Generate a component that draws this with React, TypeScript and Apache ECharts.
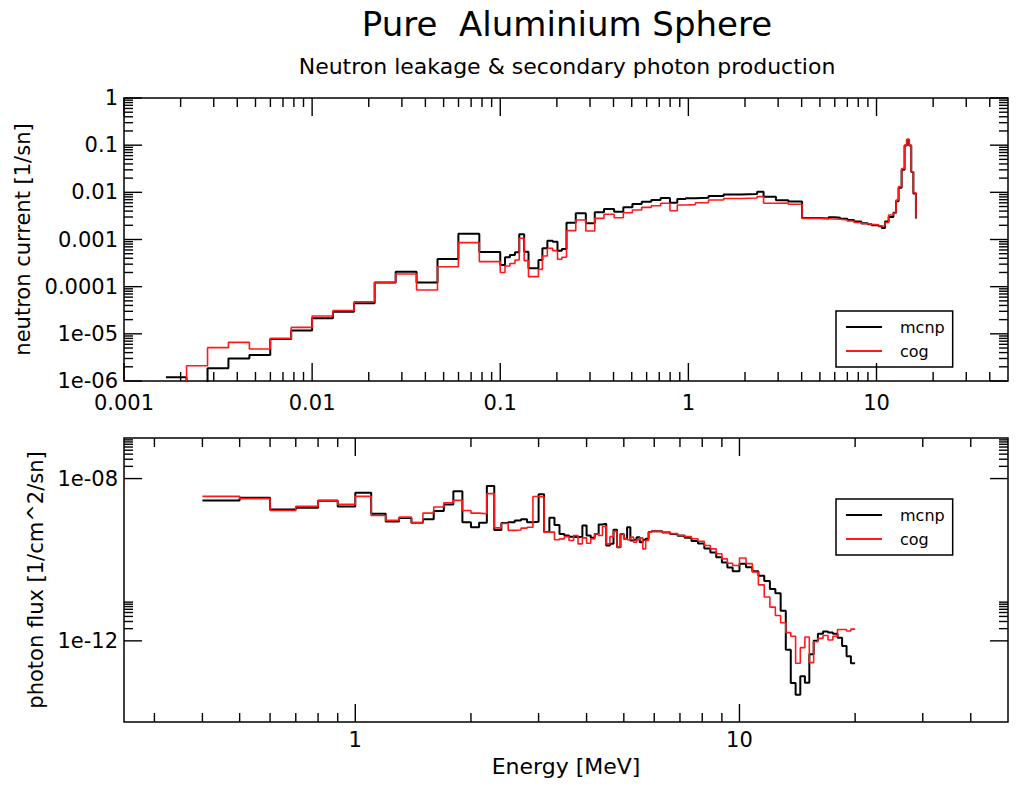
import React, { useEffect, useRef } from "react";
import * as echarts from "echarts";

// ---- Neutron leakage current (bin lower edges in MeV, last entry closes the final bin)
const E_NEUTRON = [
  0.00167, 0.00215, 0.00278, 0.00359, 0.00464, 0.00599, 0.00774, 0.01, 0.0129, 0.0167,
  0.0215, 0.0278, 0.0359, 0.0464, 0.0599, 0.0774, 0.1, 0.106, 0.1125, 0.1197,
  0.1262, 0.134, 0.1413, 0.1596, 0.1675, 0.178, 0.19, 0.2015, 0.2125, 0.225,
  0.252, 0.285, 0.318, 0.356, 0.403, 0.451, 0.504, 0.565, 0.635, 0.712,
  0.798, 0.873, 0.967, 1.09, 1.28, 1.54, 1.9, 2.32, 2.51, 2.92,
  3.4, 4.02, 4.5, 5.0, 5.56, 6.0, 6.41, 7.0, 7.6, 8.3,
  9.0, 9.44, 10.25, 10.67, 11.1, 11.6, 12.3, 12.7, 13.1, 13.6,
  14.1, 14.5, 14.9, 15.3, 15.7, 16.2,
];
const MCNP_NEUTRON = [
  1.2e-6, 8e-7, 1.86e-6, 3.0e-6, 3.56e-6, 7.8e-6, 1.17e-5, 2.13e-5, 2.95e-5, 4.44e-5,
  1.22e-4, 2.08e-4, 1.22e-4, 3.86e-4, 1.33e-3, 5.4e-4, 2.88e-4, 4.2e-4, 4.7e-4, 5.35e-4,
  1.29e-3, 5.5e-4, 2.45e-4, 3.68e-4, 6.5e-4, 9.4e-4, 9.0e-4, 5.8e-4, 6.3e-4, 2.27e-3,
  3.59e-3, 2.2e-3, 3.77e-3, 4.43e-3, 3.89e-3, 4.8e-3, 5.66e-3, 6.3e-3, 6.9e-3, 7.6e-3,
  6.0e-3, 7.2e-3, 7.5e-3, 7.7e-3, 8.4e-3, 9.0e-3, 9.2e-3, 1.03e-2, 8.1e-3, 6.8e-3,
  6.4e-3, 2.85e-3, 2.85e-3, 2.8e-3, 2.95e-3, 2.9e-3, 2.75e-3, 2.6e-3, 2.4e-3, 2.2e-3,
  2.1e-3, 2.0e-3, 1.9e-3, 1.75e-3, 2.4e-3, 3.0e-3, 3.7e-3, 6.5e-3, 1.25e-2, 3.0e-2,
  0.098, 0.13, 0.098, 2.7e-2, 9.5e-3, 2.8e-3,
];
const COG_NEUTRON = [
  5e-7, 2.11e-6, 5.09e-6, 6.6e-6, 4.77e-6, 8.0e-6, 1.37e-5, 2.39e-5, 3.1e-5, 4.8e-5,
  1.22e-4, 1.86e-4, 8.5e-5, 2.65e-4, 8.57e-4, 3.39e-4, 2.0e-4, 2.74e-4, 3.1e-4, 3.68e-4,
  1.06e-3, 3.56e-4, 1.63e-4, 2.33e-4, 4.47e-4, 6.5e-4, 5.8e-4, 3.8e-4, 4.2e-4, 1.54e-3,
  2.59e-3, 1.51e-3, 2.81e-3, 3.42e-3, 2.9e-3, 3.7e-3, 4.22e-3, 4.8e-3, 5.2e-3, 5.85e-3,
  4.08e-3, 5.4e-3, 5.5e-3, 6.0e-3, 6.9e-3, 7.4e-3, 7.6e-3, 8.1e-3, 5.85e-3, 5.9e-3,
  5.6e-3, 2.8e-3, 2.8e-3, 2.75e-3, 2.72e-3, 2.68e-3, 2.6e-3, 2.47e-3, 2.3e-3, 2.15e-3,
  2.1e-3, 2.05e-3, 1.93e-3, 1.95e-3, 2.3e-3, 3.3e-3, 3.6e-3, 6.9e-3, 1.32e-2, 3.2e-2,
  0.1, 0.133, 0.1, 2.74e-2, 9.8e-3, 2.8e-3,
];

// ---- Secondary photon flux (bin lower edges in MeV, last entry closes the final bin)
const E_PHOTON = [
  0.4, 0.5, 0.6, 0.7, 0.8, 0.9, 1.0, 1.1, 1.2, 1.3,
  1.4, 1.5, 1.6, 1.7, 1.8, 1.9, 2.0, 2.1, 2.2, 2.3,
  2.4, 2.5, 2.6, 2.7, 2.8, 2.9, 3.0, 3.1, 3.2, 3.3,
  3.4, 3.5, 3.6, 3.7, 3.8, 3.9, 4.0, 4.1, 4.2, 4.3,
  4.4, 4.5, 4.6, 4.7, 4.8, 4.9, 5.0, 5.1, 5.2, 5.3,
  5.4, 5.5, 5.6, 5.7, 5.8, 5.9, 6.0, 6.3, 6.6, 6.9,
  7.2, 7.5, 7.8, 8.1, 8.4, 8.7, 9.0, 9.3, 9.6, 10.0,
  10.4, 10.8, 11.2, 11.6, 12.0, 12.4, 12.8, 13.2, 13.6, 14.0,
  14.4, 14.8, 15.2, 15.6, 16.0, 16.5, 17.0, 17.5, 18.0, 18.5,
  19.0, 19.5, 20.0,
];
const MCNP_PHOTON = [
  2.9e-9, 3.39e-9, 1.74e-9, 1.91e-9, 2.85e-9, 2.06e-9, 4.5e-9, 1.36e-9, 8.8e-10, 1.06e-9,
  8.1e-10, 1.0e-9, 1.58e-9, 2.31e-9, 4.9e-9, 8.4e-10, 6.3e-10, 8.1e-10, 6.6e-9, 5.4e-10,
  8.0e-10, 8.4e-10, 9.3e-10, 1.0e-9, 8.4e-10, 8.6e-10, 4.1e-9, 4.8e-10, 1.08e-9, 7.2e-10,
  4.3e-10, 3.95e-10, 3.7e-10, 3.6e-10, 3.7e-10, 7.0e-10, 3.95e-10, 3.46e-10, 4.3e-10, 7.4e-10,
  7.7e-10, 2.23e-10, 2.46e-10, 5.5e-10, 2.03e-10, 4.3e-10, 3.27e-10, 6.3e-10, 2.97e-10, 3.1e-10,
  3.6e-10, 2.7e-10, 3.1e-10, 3.27e-10, 4.8e-10, 5.0e-10, 5.0e-10, 4.7e-10, 4.3e-10, 3.9e-10,
  3.5e-10, 2.9e-10, 2.5e-10, 1.9e-10, 1.5e-10, 1.15e-10, 8.5e-11, 6.4e-11, 5.2e-11, 8.0e-11,
  6.5e-11, 5.2e-11, 4.0e-11, 3.0e-11, 1.9e-11, 1.5e-11, 5.5e-12, 6.0e-13, 9.2e-14, 4.7e-14,
  1.35e-13, 9.3e-14, 4.7e-13, 1.0e-12, 1.5e-12, 1.7e-12, 1.6e-12, 1.5e-12, 1.2e-12, 7.5e-13,
  4.2e-13, 2.8e-13, 2.8e-13,
];
const COG_PHOTON = [
  3.65e-9, 3.2e-9, 1.64e-9, 2.06e-9, 2.9e-9, 2.31e-9, 3.65e-9, 1.23e-9, 9.3e-10, 1.12e-9,
  8.1e-10, 1.41e-9, 2.0e-9, 2.54e-9, 2.9e-9, 1.64e-9, 1.41e-9, 1.36e-9, 4.25e-9, 6.1e-10,
  7.8e-10, 5.3e-10, 5.4e-10, 6.0e-10, 6.3e-10, 3.6e-9, 3.5e-9, 4.8e-10, 4.8e-10, 3.1e-10,
  3.27e-10, 3.7e-10, 2.97e-10, 3.95e-10, 2.46e-10, 3.46e-10, 2.55e-10, 3.27e-10, 4.3e-10, 3.95e-10,
  6.6e-10, 2.46e-10, 3.7e-10, 5.0e-10, 2.03e-10, 4.3e-10, 3.27e-10, 3.1e-10, 3.6e-10, 2.7e-10,
  3.1e-10, 3.46e-10, 1.85e-10, 2.97e-10, 4.8e-10, 5.0e-10, 5.0e-10, 4.8e-10, 4.4e-10, 4.0e-10,
  3.7e-10, 3.3e-10, 2.85e-10, 2.25e-10, 1.85e-10, 1.4e-10, 1.05e-10, 8.2e-11, 7.2e-11, 1.1e-10,
  8.0e-11, 5.0e-11, 2.4e-11, 1.2e-11, 6.8e-12, 4.2e-12, 2.8e-12, 1.6e-12, 1.3e-12, 2.8e-13,
  6.8e-13, 1.25e-12, 2.9e-13, 9.5e-13, 1.15e-12, 1.35e-12, 1.05e-12, 1.3e-12, 1.9e-12, 1.9e-12,
  1.75e-12, 1.95e-12, 1.95e-12,
];

// ---- Axis ticks and labels
const MINOR_STEPS = [2, 3, 4, 5, 6, 7, 8, 9];

const NEUTRON_X_MAJOR = [0.001, 0.01, 0.1, 1, 10];
const NEUTRON_X_LABELS = ["0.001", "0.01", "0.1", "1", "10"];
const NEUTRON_X_MINOR_DECADES = [0.001, 0.01, 0.1, 1];
const NEUTRON_X_MINOR_EXTRA = [20, 30, 40];
const NEUTRON_Y_MAJOR = [1e-6, 1e-5, 1e-4, 1e-3, 1e-2, 1e-1, 1];
const NEUTRON_Y_LABELS = ["1e-06", "1e-05", "0.0001", "0.001", "0.01", "0.1", "1"];
const NEUTRON_Y_MINOR_DECADES = [1e-6, 1e-5, 1e-4, 1e-3, 1e-2, 1e-1];

const PHOTON_X_MAJOR = [1, 10];
const PHOTON_X_LABELS = ["1", "10"];
const PHOTON_X_MINOR = [0.3, 0.4, 0.5, 0.6, 0.7, 0.8, 0.9, 2, 3, 4, 5, 6, 7, 8, 9, 20, 30, 40];
const PHOTON_Y_MAJOR = [1e-12, 1e-8];
const PHOTON_Y_LABELS = ["1e-12", "1e-08"];
const PHOTON_Y_MINOR_DECADES = [1e-12, 1e-8];

const FONT = "DejaVu Sans";

const expand = (decades: number[]) =>
  decades.flatMap((d) => MINOR_STEPS.map((m) => d * m));

const pairs = (xs: number[], ys: number[]) => xs.map((x, i) => [x, ys[i]]);

const labelFor = (values: number[], texts: string[]) => (v: number) => {
  const lv = Math.log10(v);
  const i = values.findIndex((m) => Math.abs(Math.log10(m) - lv) < 1e-6);
  return i >= 0 ? texts[i] : "";
};

// tick rows: [x, y, kind]  kind 0 = x major, 1 = x minor, 2 = y major, 3 = y minor
const tickRows = (
  xMajor: number[],
  xMinor: number[],
  yMajor: number[],
  yMinor: number[],
  xRef: number,
  yRef: number
) => [
  ...xMajor.map((v) => [v, yRef, 0]),
  ...xMinor.map((v) => [v, yRef, 1]),
  ...yMajor.map((v) => [xRef, v, 2]),
  ...yMinor.map((v) => [xRef, v, 3]),
];

// inward ticks on all four sides of a plot frame
const renderTick = (params: any, api: any) => {
  const cs = params.coordSys;
  const kind = api.value(2);
  const p = api.coord([api.value(0), api.value(1)]);
  const len = kind === 0 || kind === 2 ? 18 : 9;
  const style = { stroke: "#000", lineWidth: 1.4 };
  if (kind < 2) {
    const x = p[0];
    const yb = cs.y + cs.height;
    return {
      type: "group",
      children: [
        { type: "line", shape: { x1: x, y1: yb, x2: x, y2: yb - len }, style },
        { type: "line", shape: { x1: x, y1: cs.y, x2: x, y2: cs.y + len }, style },
      ],
    };
  }
  const y = p[1];
  const xr = cs.x + cs.width;
  return {
    type: "group",
    children: [
      { type: "line", shape: { x1: cs.x, y1: y, x2: cs.x + len, y2: y }, style },
      { type: "line", shape: { x1: xr, y1: y, x2: xr - len, y2: y }, style },
    ],
  };
};

const hiddenAxisParts = {
  axisLine: { show: false },
  axisTick: { show: false },
  splitLine: { show: false },
  minorTick: { show: false },
};

const labelStyle = { fontFamily: FONT, fontSize: 21, color: "#000" };

const legendBox = (top: number) => ({
  left: 836,
  top,
  orient: "vertical",
  padding: [7, 8, 7, 10],
  itemGap: 6,
  itemWidth: 36,
  itemHeight: 2,
  icon: "rect",
  borderColor: "#000",
  borderWidth: 1.5,
  backgroundColor: "#fff",
  selectedMode: false,
  data: ["mcnp", "cog"],
  textStyle: {
    fontFamily: FONT,
    fontSize: 16,
    lineHeight: 18,
    color: "#000",
    padding: [0, 0, 0, 13],
  },
});

const stepSeries = (name: string, color: string, width: number, data: number[][], gi: number) => ({
  name,
  type: "line",
  step: "end",
  xAxisIndex: gi,
  yAxisIndex: gi,
  data,
  color,
  symbol: "none",
  showSymbol: false,
  clip: true,
  lineStyle: { color, width },
  z: 3,
});

const buildOption = () => ({
  animation: false,
  backgroundColor: "#fff",
  textStyle: { fontFamily: FONT },
  title: [
    {
      text: "Pure  Aluminium Sphere",
      left: 567,
      top: 7,
      textAlign: "center",
      padding: 0,
      textStyle: { fontFamily: FONT, fontSize: 34, fontWeight: "normal", color: "#000" },
    },
    {
      text: "Neutron leakage & secondary photon production",
      left: 567,
      top: 55,
      textAlign: "center",
      padding: 0,
      textStyle: { fontFamily: FONT, fontSize: 22, fontWeight: "normal", color: "#000" },
    },
  ],
  legend: [legendBox(311), legendBox(499)],
  grid: [
    { left: 124, top: 98, width: 884, height: 283, show: true, borderColor: "#000", borderWidth: 1.5, backgroundColor: "transparent" },
    { left: 124, top: 438, width: 884, height: 284, show: true, borderColor: "#000", borderWidth: 1.5, backgroundColor: "transparent" },
  ],
  xAxis: [
    {
      type: "log",
      gridIndex: 0,
      min: 0.001,
      max: 50,
      ...hiddenAxisParts,
      axisLabel: {
        ...labelStyle,
        margin: 11,
        showMinLabel: true,
        showMaxLabel: true,
        formatter: labelFor(NEUTRON_X_MAJOR, NEUTRON_X_LABELS),
      },
    },
    {
      type: "log",
      gridIndex: 1,
      min: 0.25,
      max: 50,
      ...hiddenAxisParts,
      name: "Energy [MeV]",
      nameLocation: "middle",
      nameGap: 33,
      nameTextStyle: { fontFamily: FONT, fontSize: 22, color: "#000" },
      axisLabel: {
        ...labelStyle,
        margin: 7,
        showMinLabel: true,
        showMaxLabel: true,
        formatter: labelFor(PHOTON_X_MAJOR, PHOTON_X_LABELS),
      },
    },
  ],
  yAxis: [
    {
      type: "log",
      gridIndex: 0,
      min: 1e-6,
      max: 1,
      ...hiddenAxisParts,
      name: "neutron current [1/sn]",
      nameLocation: "middle",
      nameGap: 76,
      nameTextStyle: { fontFamily: FONT, fontSize: 21, color: "#000" },
      axisLabel: {
        ...labelStyle,
        margin: 6,
        showMinLabel: true,
        showMaxLabel: true,
        formatter: labelFor(NEUTRON_Y_MAJOR, NEUTRON_Y_LABELS),
      },
    },
    {
      type: "log",
      gridIndex: 1,
      min: 1e-14,
      max: 1e-7,
      ...hiddenAxisParts,
      name: "photon flux [1/cm^2/sn]",
      nameLocation: "middle",
      nameGap: 76,
      nameTextStyle: { fontFamily: FONT, fontSize: 21, color: "#000" },
      axisLabel: {
        ...labelStyle,
        margin: 6,
        showMinLabel: true,
        showMaxLabel: true,
        formatter: labelFor(PHOTON_Y_MAJOR, PHOTON_Y_LABELS),
      },
    },
  ],
  series: [
    stepSeries("mcnp", "#000000", 2, pairs(E_NEUTRON, MCNP_NEUTRON), 0),
    stepSeries("cog", "#ff1a1a", 1.6, pairs(E_NEUTRON, COG_NEUTRON), 0),
    stepSeries("mcnp", "#000000", 2, pairs(E_PHOTON, MCNP_PHOTON), 1),
    stepSeries("cog", "#ff1a1a", 1.6, pairs(E_PHOTON, COG_PHOTON), 1),
    {
      type: "custom",
      xAxisIndex: 0,
      yAxisIndex: 0,
      silent: true,
      z: 10,
      renderItem: renderTick,
      data: tickRows(
        NEUTRON_X_MAJOR,
        [...expand(NEUTRON_X_MINOR_DECADES), ...NEUTRON_X_MINOR_EXTRA],
        NEUTRON_Y_MAJOR,
        expand(NEUTRON_Y_MINOR_DECADES),
        1,
        1e-3
      ),
    },
    {
      type: "custom",
      xAxisIndex: 1,
      yAxisIndex: 1,
      silent: true,
      z: 10,
      renderItem: renderTick,
      data: tickRows(
        PHOTON_X_MAJOR,
        PHOTON_X_MINOR,
        PHOTON_Y_MAJOR,
        expand(PHOTON_Y_MINOR_DECADES),
        1,
        1e-10
      ),
    },
  ],
});

export default function App() {
  const ref = useRef<HTMLDivElement>(null);
  useEffect(() => {
    if (!ref.current) return;
    const chart = echarts.init(ref.current, null, { renderer: "svg" });
    chart.setOption(buildOption() as any);
    return () => chart.dispose();
  }, []);
  return (
    <div
      ref={ref}
      style={{ position: "absolute", left: 0, top: 0, width: 1017, height: 788, background: "#fff" }}
    />
  );
}
